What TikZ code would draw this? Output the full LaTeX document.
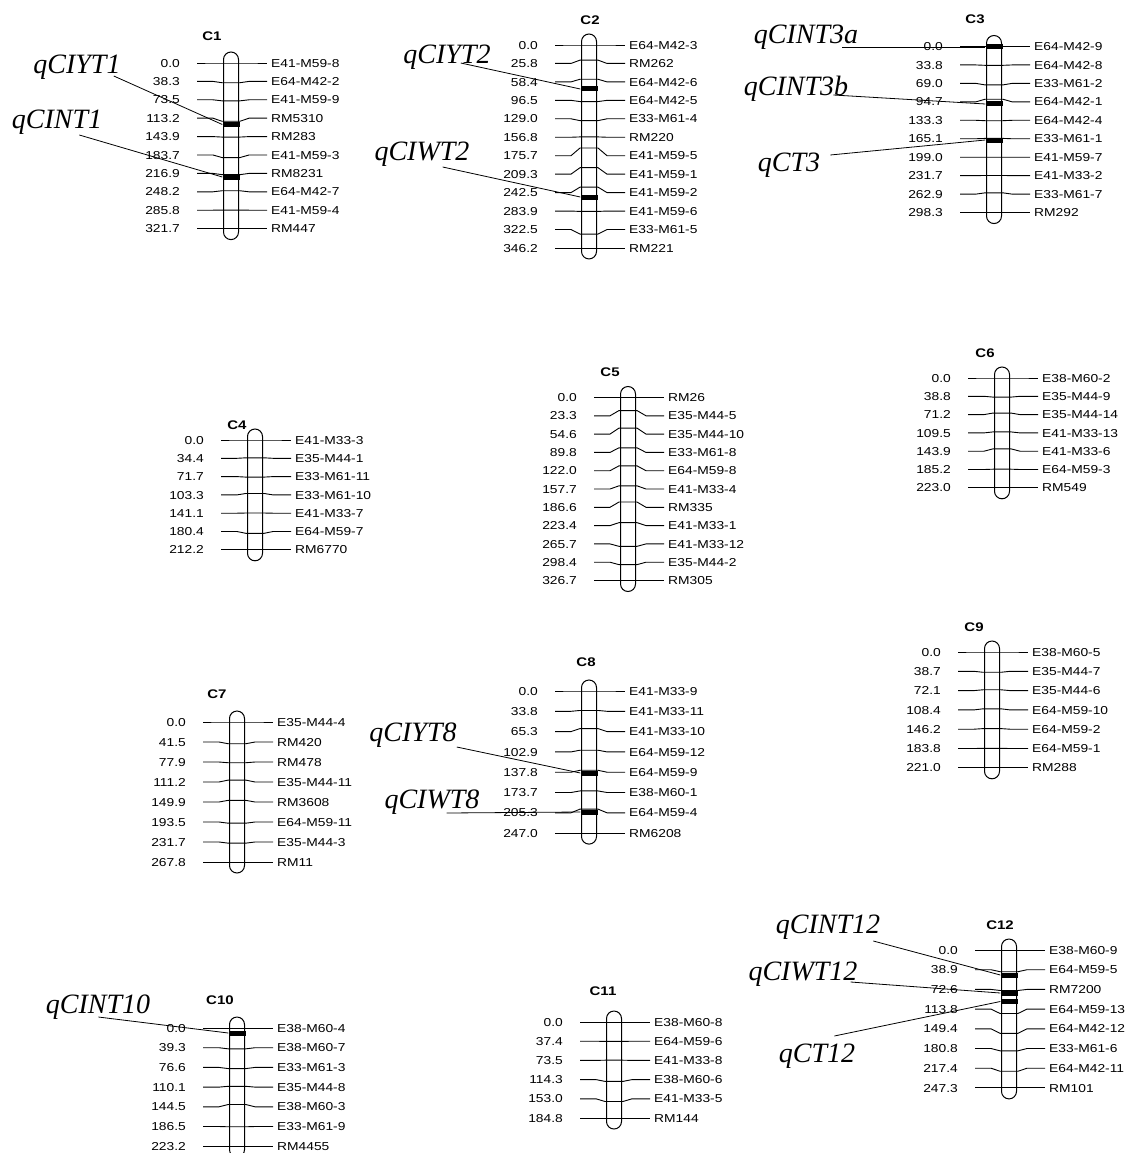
\documentclass[tikz,border=0pt]{standalone}
\usepackage{fontspec}
\setmainfont{Liberation Sans}
\newfontfamily\mapfamily{Liberation Sans}[FakeStretch=1.2]
\newfontfamily\qtlfamily{Liberation Serif}

% #1 name, #2 x of bar, #3 y of first row, #4 row gap,
% #5 number of rows, #6 length in cM, #7 cM/marker list
\newcommand{\chromosome}[7]{%
  \begin{scope}[shift={(#2,#3)}]
    \draw[chrbar] (-7.5,-11) rectangle (7.5,{(#5-1)*#4+11});
    \foreach \cm/\mk [count=\i from 0] in {#7} {
      \pgfmathsetmacro{\ylab}{\i*#4}
      \pgfmathsetmacro{\ybar}{\cm/#6*(#5-1)*#4}
      \draw[mkline] (-34,\ylab) -- (-18,\ylab) -- (-9,\ybar) -- (9,\ybar)
        -- (18,\ylab) -- (36,\ylab);
      \node[cmlabel] (#1-p\i) at (-51,\ylab) {\cm};
      \node[mklabel] (#1-m\i) at (40,\ylab) {\mk};
    }
  \end{scope}
}

\begin{document}
\begin{tikzpicture}[x=1pt, y=-1pt,
  every node/.style={inner sep=0pt},
  chrbar/.style={draw=black, line width=1pt, rounded corners=7.5pt},
  mkline/.style={black, line width=0.9pt},
  cmlabel/.style={anchor=east, font=\mapfamily\fontsize{11.5}{13}\selectfont,
                  text height=8.3pt, text depth=0pt},
  mklabel/.style={anchor=west, font=\mapfamily\fontsize{11.5}{13}\selectfont,
                  text height=8.3pt, text depth=0pt},
  chrtitle/.style={font=\mapfamily\fontsize{12.5}{14}\selectfont\bfseries},
  qtl/.style={font=\fontsize{28}{30}\selectfont\qtlfamily\itshape},
  qtlmark/.style={fill=black, minimum width=17pt, minimum height=5pt},
  leader/.style={black, line width=0.8pt}]
\useasboundingbox (0,0) rectangle (1127,1153);

% linkage groups
\chromosome{C1}{231}{63}{18.4}{10}{321.7}{0.0/E41-M59-8, 38.3/E64-M42-2,
  73.5/E41-M59-9, 113.2/RM5310, 143.9/RM283, 183.7/E41-M59-3, 216.9/RM8231,
  248.2/E64-M42-7, 285.8/E41-M59-4, 321.7/RM447}
\chromosome{C2}{589}{45}{18.45}{12}{346.2}{0.0/E64-M42-3, 25.8/RM262,
  58.4/E64-M42-6, 96.5/E64-M42-5, 129.0/E33-M61-4, 156.8/RM220,
  175.7/E41-M59-5, 209.3/E41-M59-1, 242.5/E41-M59-2, 283.9/E41-M59-6,
  322.5/E33-M61-5, 346.2/RM221}
\chromosome{C3}{994}{46.5}{18.45}{10}{298.3}{0.0/E64-M42-9, 33.8/E64-M42-8,
  69.0/E33-M61-2, 94.7/E64-M42-1, 133.3/E64-M42-4, 165.1/E33-M61-1,
  199.0/E41-M59-7, 231.7/E41-M33-2, 262.9/E33-M61-7, 298.3/RM292}
\chromosome{C4}{255}{440}{18.3}{7}{212.2}{0.0/E41-M33-3, 34.4/E35-M44-1,
  71.7/E33-M61-11, 103.3/E33-M61-10, 141.1/E41-M33-7, 180.4/E64-M59-7,
  212.2/RM6770}
\chromosome{C5}{628}{397.5}{18.3}{11}{326.7}{0.0/RM26, 23.3/E35-M44-5,
  54.6/E35-M44-10, 89.8/E33-M61-8, 122.0/E64-M59-8, 157.7/E41-M33-4,
  186.6/RM335, 223.4/E41-M33-1, 265.7/E41-M33-12, 298.4/E35-M44-2,
  326.7/RM305}
\chromosome{C6}{1002}{378}{18.3}{7}{223.0}{0.0/E38-M60-2, 38.8/E35-M44-9,
  71.2/E35-M44-14, 109.5/E41-M33-13, 143.9/E41-M33-6, 185.2/E64-M59-3,
  223.0/RM549}
\chromosome{C7}{237}{722}{20}{8}{267.8}{0.0/E35-M44-4, 41.5/RM420,
  77.9/RM478, 111.2/E35-M44-11, 149.9/RM3608, 193.5/E64-M59-11,
  231.7/E35-M44-3, 267.8/RM11}
\chromosome{C8}{589}{691}{20.3}{8}{247.0}{0.0/E41-M33-9, 33.8/E41-M33-11,
  65.3/E41-M33-10, 102.9/E64-M59-12, 137.8/E64-M59-9, 173.7/E38-M60-1,
  205.3/E64-M59-4, 247.0/RM6208}
\chromosome{C9}{992}{652}{19.3}{7}{221.0}{0.0/E38-M60-5, 38.7/E35-M44-7,
  72.1/E35-M44-6, 108.4/E64-M59-10, 146.2/E64-M59-2, 183.8/E64-M59-1,
  221.0/RM288}
\chromosome{C10}{237}{1028}{19.7}{7}{223.2}{0.0/E38-M60-4, 39.3/E38-M60-7,
  76.6/E33-M61-3, 110.1/E35-M44-8, 144.5/E38-M60-3, 186.5/E33-M61-9,
  223.2/RM4455}
\chromosome{C11}{614}{1022}{19.2}{6}{184.8}{0.0/E38-M60-8, 37.4/E64-M59-6,
  73.5/E41-M33-8, 114.3/E38-M60-6, 153.0/E41-M33-5, 184.8/RM144}
\chromosome{C12}{1009}{950}{19.7}{8}{247.3}{0.0/E38-M60-9, 38.9/E64-M59-5,
  72.6/RM7200, 113.8/E64-M59-13, 149.4/E64-M42-12, 180.8/E33-M61-6,
  217.4/E64-M42-11, 247.3/RM101}

% titles
\node[chrtitle] (C1) at (212,36) {C1};
\node[chrtitle] (C2) at (590,20) {C2};
\node[chrtitle] (C3) at (975,19) {C3};
\node[chrtitle] (C4) at (237,425) {C4};
\node[chrtitle] (C5) at (610,372) {C5};
\node[chrtitle] (C6) at (985,353) {C6};
\node[chrtitle] (C7) at (217,694) {C7};
\node[chrtitle] (C8) at (586,662) {C8};
\node[chrtitle] (C9) at (974,627) {C9};
\node[chrtitle] (C10) at (220,1000) {C10};
\node[chrtitle] (C11) at (603,991) {C11};
\node[chrtitle] (C12) at (1000,925) {C12};

% QTL
\node[qtl] (qCIYT1) at (77,67) {qCIYT1};
\node[qtlmark] (qCIYT1-m) at (231,124.5) {};
\draw[leader] ([shift={(-7,9)}]qCIYT1.east) -- (qCIYT1-m.west);
\node[qtl] (qCINT1) at (57,122) {qCINT1};
\node[qtlmark] (qCINT1-m) at (231,177) {};
\draw[leader] ([shift={(-23,13)}]qCINT1.east) -- (qCINT1-m.west);

\node[qtl] (qCIYT2) at (447,57) {qCIYT2};
\node[qtlmark] (qCIYT2-m) at (589,89) {};
\draw[leader] ([shift={(-30,6)}]qCIYT2.east) -- (qCIYT2-m.west);
\node[qtl] (qCIWT2) at (422,154) {qCIWT2};
\node[qtlmark] (qCIWT2-m) at (589,197) {};
\draw[leader] ([shift={(-27,13)}]qCIWT2.east) -- (qCIWT2-m.west);

\node[qtl] (qCINT3a) at (806,37) {qCINT3a};
\node[qtlmark] (qCINT3a-m) at (994,47) {};
\draw[leader] ([shift={(-16,10)}]qCINT3a.east) -- (qCINT3a-m.west);
\node[qtl] (qCINT3b) at (796,89) {qCINT3b};
\node[qtlmark] (qCINT3b-m) at (994,104) {};
\draw[leader] ([shift={(-15,6)}]qCINT3b.east) -- (qCINT3b-m.west);
\node[qtl] (qCT3) at (789,165) {qCT3};
\node[qtlmark] (qCT3-m) at (994,140) {};
\draw[leader] ([shift={(10,-10)}]qCT3.east) -- (qCT3-m.west);

\node[qtl] (qCIYT8) at (413,735) {qCIYT8};
\node[qtlmark] (qCIYT8-m) at (589,773) {};
\draw[leader] ([shift={(0,12)}]qCIYT8.east) -- (qCIYT8-m.west);
\node[qtl] (qCIWT8) at (432,802) {qCIWT8};
\node[qtlmark] (qCIWT8-m) at (589,812) {};
\draw[leader] ([shift={(-33,11)}]qCIWT8.east) -- (qCIWT8-m.west);

\node[qtl] (qCINT10) at (98,1007) {qCINT10};
\node[qtlmark] (qCINT10-m) at (237,1033) {};
\draw[leader] ([shift={(-52,10)}]qCINT10.east) -- (qCINT10-m.west);

\node[qtl] (qCINT12) at (828,927) {qCINT12};
\node[qtlmark] (qCINT12-m) at (1009,975) {};
\draw[leader] ([shift={(-7,14)}]qCINT12.east) -- (qCINT12-m.west);
\node[qtl] (qCIWT12) at (803,974) {qCIWT12};
\node[qtlmark] (qCIWT12-m) at (1009,993) {};
\draw[leader] ([shift={(-7,8)}]qCIWT12.east) -- (qCIWT12-m.west);
\node[qtl] (qCT12) at (817,1056) {qCT12};
\node[qtlmark] (qCT12-m) at (1009,1001.5) {};
\draw[leader] ([shift={(-21,-20)}]qCT12.east) -- (qCT12-m.west);
\end{tikzpicture}
\end{document}
